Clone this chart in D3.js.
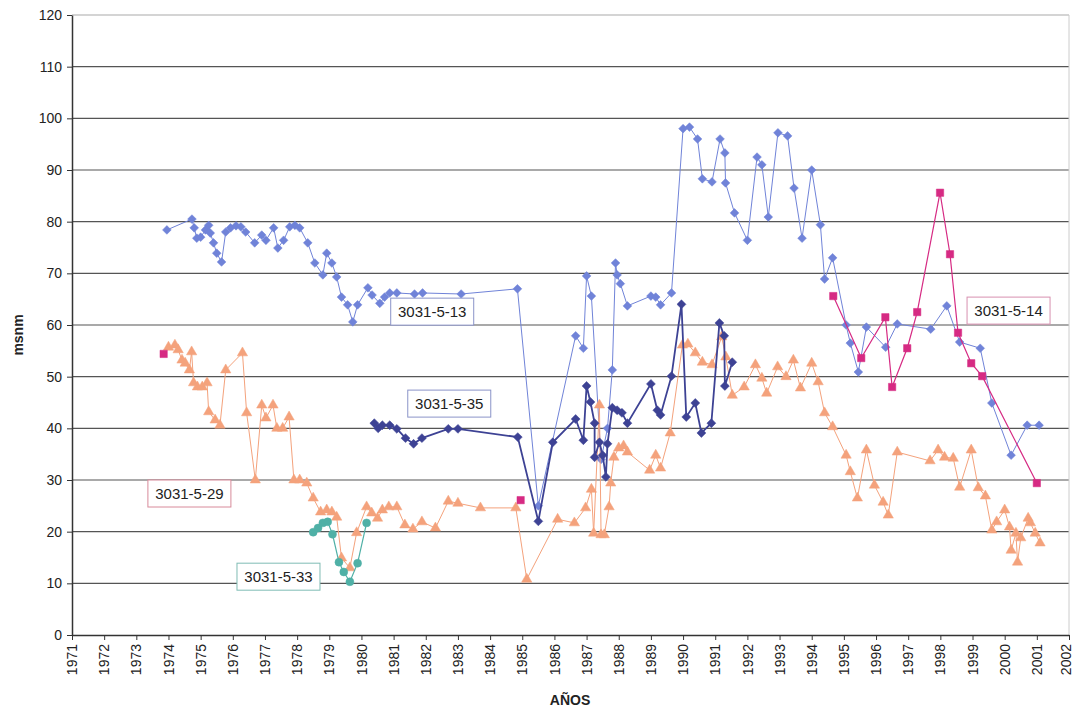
<!DOCTYPE html>
<html>
<head>
<meta charset="utf-8">
<script src="https://cdn.jsdelivr.net/npm/d3@7"></script>
<style>
  body { margin: 0; background: #fff; }
  text { font-family: "Liberation Sans", Arial, sans-serif; }
</style>
</head>
<body>
<script>
const w = 1074; // width
const h = 711;  // height
const m = {left: 72, right: 5, top: 15, bottom: 76};

// year ticks and value ticks
const years = d3.range(1971, 2003);
const yTicks = d3.range(0, 121, 10);

// series: [year, value], null = gap
const s13 = [
  [1973.95,78.4],[1974.73,80.5],[1974.8,78.8],[1974.88,76.8],[1975.0,77],[1975.15,78.4],[1975.25,79.3],
  [1975.3,77.8],[1975.4,75.9],[1975.5,73.9],[1975.65,72.2],[1975.78,78],[1975.93,78.8],[1976.1,79.2],
  [1976.25,79],[1976.4,78],[1976.68,75.9],[1976.9,77.4],[1977.03,76.4],[1977.27,78.8],[1977.4,74.9],
  [1977.58,76.4],[1977.77,79],[1977.93,79.3],[1978.08,78.8],[1978.33,75.9],[1978.55,72],[1978.8,69.7],
  [1978.92,73.9],[1979.08,72],[1979.23,69.3],[1979.38,65.4],[1979.57,63.9],[1979.73,60.6],[1979.88,63.9],
  [1980.2,67.2],[1980.33,65.8],[1980.57,64.2],[1980.72,65.4],[1980.88,66.2],[1981.1,66.2],[1981.65,66],
  [1981.9,66.2],[1983.1,66],[1984.85,67],[1985.5,25],[1986.66,57.9],[1986.9,55.5],[1987.0,69.5],
  [1987.15,65.6],[1987.45,34],[1987.65,40],[1987.8,51.3],[1987.9,72],[1987.95,69.7],[1988.05,68],
  [1988.27,63.7],[1989.0,65.6],[1989.15,65.4],[1989.3,63.9],[1989.64,66.2],[1990.0,98],[1990.2,98.3],
  [1990.45,96],[1990.6,88.3],[1990.9,87.7],[1991.15,96],[1991.3,93.3],[1991.32,87.5],[1991.6,81.7],
  [1992.0,76.4],[1992.3,92.5],[1992.45,91],[1992.65,80.9],[1992.95,97.2],[1993.25,96.6],[1993.45,86.5],
  [1993.7,76.8],[1994.0,90],[1994.27,79.4],[1994.4,68.9],[1994.65,73],[1995.07,60],[1995.2,56.5],
  [1995.45,50.9],[1995.7,59.6],[1996.3,55.7],[1996.66,60.2],[1997.7,59.2],[1998.2,63.7],[1998.6,56.7],
  [1999.24,55.5],[1999.6,44.9],[2000.2,34.8],[2000.7,40.6],[2001.07,40.6]
];

const s29 = [
  [1974.0,55.7],[1974.2,56.1],[1974.3,55.2],[1974.42,53.2],[1974.52,52.6],[1974.65,51.3],[1974.72,54.8],
  [1974.78,48.8],[1974.9,48],[1975.05,48],[1975.2,48.8],[1975.25,43.2],[1975.45,41.6],[1975.6,40.6],
  [1975.78,51.3],[1976.3,54.6],[1976.43,43],[1976.7,30],[1976.9,44.5],[1977.03,42],[1977.25,44.5],
  [1977.37,40],[1977.55,40],[1977.75,42.2],[1977.9,30],[1978.08,30],[1978.3,29.4],[1978.5,26.5],
  [1978.73,23.8],[1978.92,24.2],[1979.08,23.8],[1979.23,22.8],[1979.38,14.9],[1979.64,13],[1979.85,19.8],
  [1980.16,24.8],[1980.32,23.6],[1980.5,22.6],[1980.65,24.2],[1980.85,24.8],[1981.1,24.8],[1981.35,21.3],
  [1981.6,20.5],[1981.88,21.9],[1982.3,20.7],[1982.7,25.9],[1983.0,25.5],[1983.7,24.6],[1984.8,24.6],
  [1985.14,10.8],[1986.1,22.4],[1986.62,21.7],[1986.97,24.6],[1987.15,28.2],[1987.22,19.7],[1987.4,44.5],
  [1987.45,19.4],[1987.55,19.4],[1987.7,24.8],[1987.75,29.4],[1987.85,34.4],[1988.0,36.2],[1988.15,36.6],
  [1988.27,35.4],[1988.96,31.9],[1989.15,34.8],[1989.3,32.3],[1989.6,39.1],[1989.98,56.1],[1990.15,56.3],
  [1990.38,54.6],[1990.6,52.8],[1990.9,52.3],[1991.2,57.7],[1991.33,53.8],[1991.53,46.4],[1991.9,48],
  [1992.25,52.3],[1992.45,49.7],[1992.6,46.8],[1992.94,51.9],[1993.2,50],[1993.43,53.2],[1993.65,47.8],
  [1994.0,52.6],[1994.2,49],[1994.4,43],[1994.65,40.3],[1995.07,34.8],[1995.2,31.6],[1995.42,26.5],
  [1995.7,35.8],[1995.95,29],[1996.22,25.7],[1996.38,23.2],[1996.66,35.4],[1997.68,33.7],[1997.93,35.8],
  [1998.13,34.4],[1998.4,34.2],[1998.6,28.6],[1998.96,35.8],[1999.18,28.5],[1999.4,26.9],[1999.6,20.3],
  [1999.75,21.9],[2000.0,24.2],[2000.15,20.9],[2000.2,16.4],[2000.35,19.7],[2000.4,14.1],[2000.5,18.8],
  [2000.73,22.6],[2000.8,21.7],[2000.95,19.7],[2001.1,17.8]
];

const s33 = [
  [1978.5,19.9],[1978.65,20.7],[1978.8,21.7],[1978.95,21.9],[1979.1,19.5],[1979.3,14.1],[1979.45,12.2],
  [1979.64,10.3],[1979.88,13.9],[1980.16,21.7]
];

const s35 = [
  [1980.4,41],[1980.52,40],[1980.65,40.6],[1980.88,40.6],[1981.1,39.9],[1981.37,38.1],[1981.62,37],
  [1981.88,38.1],[1982.7,39.9],[1983.0,39.9],[1984.86,38.3],[1985.5,22],[1985.95,37.3],[1986.66,41.8],
  [1986.9,37.7],[1987.0,48.2],[1987.12,45.1],[1987.25,41],[1987.25,34.4],[1987.4,37.3],[1987.5,34.8],
  [1987.6,30.6],[1987.65,37],[1987.8,44],[1987.95,43.5],[1988.1,43],[1988.27,41],[1989.0,48.6],
  [1989.2,43.5],[1989.3,42.6],[1989.64,50.1],[1989.95,64],[1990.1,42.2],[1990.38,44.9],[1990.57,39.1],
  [1990.88,41],[1991.13,60.4],[1991.28,57.9],[1991.3,48.2],[1991.53,52.8]
];

const s14 = [
  [1973.85,54.4], null, [1984.95,26.1], null,
  [1994.67,65.6],[1995.54,53.6],[1996.29,61.5],[1996.5,48],[1996.97,55.5],[1997.28,62.5],[1997.99,85.6],
  [1998.3,73.7],[1998.55,58.5],[1998.96,52.6],[1999.3,50.1],[2001.0,29.4]
];

// label text with anchor (year, value) of box top-left
const labels = [
  {text: "3031-5-13", year: 1980.91, value: 65.2, stroke: "#8a93c8"},
  {text: "3031-5-35", year: 1981.44, value: 47.4, stroke: "#8a93c8"},
  {text: "3031-5-29", year: 1973.36, value: 30.0, stroke: "#d88a9a"},
  {text: "3031-5-33", year: 1976.13, value: 13.9, stroke: "#7fbcb4"},
  {text: "3031-5-14", year: 1998.83, value: 65.4, stroke: "#d890b0"}
];

let svg = d3.select("body")
    .append("svg")
    .attr("width", w)
    .attr("height", h);

svg.append("rect").attr("width", w).attr("height", h).attr("fill", "#fff");

let x = d3.scaleLinear()
    .domain([1971, 2002])
    .range([m.left, w - m.right]);

let y = d3.scaleLinear()
    .domain([0, 120])
    .range([h - m.bottom, m.top]);

// grid lines
svg.append("g")
    .selectAll("line")
    .data(yTicks.filter(d => d > 0))
    .enter()
    .append("line")
    .attr("x1", x(1971))
    .attr("x2", x(2002))
    .attr("y1", d => y(d))
    .attr("y2", d => y(d))
    .attr("stroke", d => d === 120 ? "#aaa" : "#555")
    .attr("stroke-width", 1.2);

// right border
svg.append("line")
    .attr("x1", x(2002)).attr("x2", x(2002))
    .attr("y1", y(120)).attr("y2", y(0))
    .attr("stroke", "#ccc");

// x axis
let gX = svg.append("g")
    .attr("transform", `translate(0,${y(0)})`)
    .call(d3.axisBottom(x).tickValues(years).tickFormat(d3.format("d")).tickSize(5).tickSizeOuter(0));
gX.select(".domain").attr("stroke", "#333").attr("stroke-width", 1.5);
gX.selectAll(".tick line").attr("stroke", "#333");
gX.selectAll("text")
    .attr("transform", "rotate(-90)")
    .attr("text-anchor", "end")
    .attr("x", -9)
    .attr("y", d => d === 2002 ? -3 : 0)
    .attr("dy", "0.33em")
    .attr("font-size", 14)
    .attr("fill", "#222");

// y axis
let gY = svg.append("g")
    .attr("transform", `translate(${x(1971)},0)`)
    .call(d3.axisLeft(y).tickValues(yTicks).tickSize(5).tickSizeOuter(0));
gY.select(".domain").attr("stroke", "#333").attr("stroke-width", 1.5);
gY.selectAll(".tick line").attr("stroke", "#333");
gY.selectAll("text")
    .attr("font-size", 14)
    .attr("fill", "#222")
    .attr("x", -10);

// axis titles
svg.append("text")
    .attr("text-anchor", "middle")
    .attr("transform", `translate(23,${(y(0) + y(120)) / 2 + 10}) rotate(-90)`)
    .attr("font-size", 14)
    .attr("font-weight", "bold")
    .attr("fill", "#222")
    .text("msnm");

svg.append("text")
    .attr("text-anchor", "middle")
    .attr("x", 570)
    .attr("y", 705)
    .attr("font-size", 14)
    .attr("font-weight", "bold")
    .attr("fill", "#222")
    .text("AÑOS");

let line = d3.line()
    .defined(d => d !== null)
    .x(d => x(d[0]))
    .y(d => y(d[1]));

const series = [
  {data: s13, color: "#7083d8", width: 1, symbol: d3.symbolSquare, size: 38, rot: 45},
  {data: s29, color: "#f4a27c", width: 1, symbol: d3.symbolTriangle, size: 46, rot: 0},
  {data: s33, color: "#4fb0a6", width: 1.2, symbol: d3.symbolCircle, size: 50, rot: 0},
  {data: s35, color: "#3d4294", width: 1.8, symbol: d3.symbolSquare, size: 40, rot: 45},
  {data: s14, color: "#d62a83", width: 1.2, symbol: d3.symbolSquare, size: 54, rot: 0}
];

series.forEach(s => {
    svg.append("path")
        .datum(s.data)
        .attr("fill", "none")
        .attr("stroke", s.color)
        .attr("stroke-width", s.width)
        .attr("d", line);

    svg.append("g")
        .selectAll("path")
        .data(s.data.filter(d => d !== null))
        .enter()
        .append("path")
        .attr("d", d3.symbol().type(s.symbol).size(s.size))
        .attr("transform", d => `translate(${x(d[0])},${y(d[1])}) rotate(${s.rot})`)
        .attr("fill", s.color)
        .attr("stroke", s.color)
        .attr("stroke-width", 0.5);
});

// data labels
let lab = svg.append("g")
    .selectAll("g")
    .data(labels)
    .enter()
    .append("g")
    .attr("transform", d => `translate(${x(d.year)},${y(d.value)})`);

lab.append("rect")
    .attr("width", 83)
    .attr("height", 27)
    .attr("fill", "#fff")
    .attr("stroke", d => d.stroke)
    .attr("stroke-width", 1);

lab.append("text")
    .attr("x", 41.5)
    .attr("y", 19)
    .attr("text-anchor", "middle")
    .attr("font-size", 15)
    .attr("fill", "#222")
    .text(d => d.text);
</script>
</body>
</html>
